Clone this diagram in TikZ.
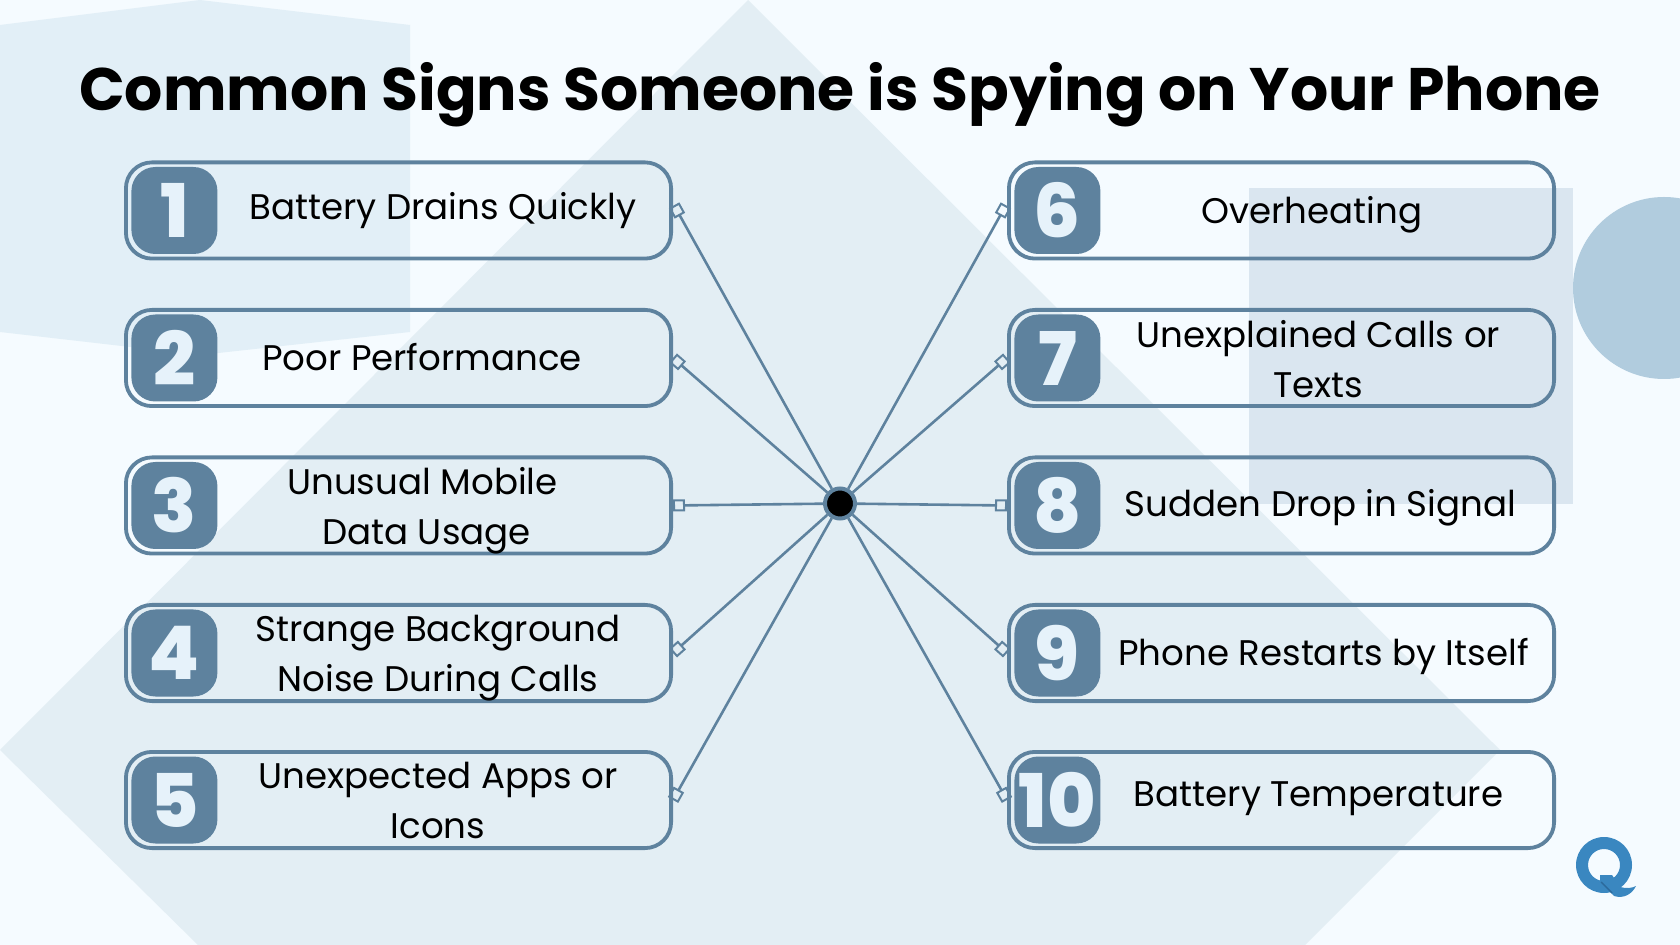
\documentclass[tikz,border=0pt]{standalone}
\usepackage{fontspec}
\setmainfont{Poppins}
\newfontfamily\digitfont{Poppins}[UprightFont=* ExtraBold]
\usetikzlibrary{arrows.meta,positioning}
\definecolor{steel}{HTML}{5E829E}
\definecolor{pagebg}{HTML}{F5FBFF}
\definecolor{hexcol}{HTML}{E2EFF7}
\definecolor{diamcol}{HTML}{E3EEF4}
\definecolor{rectcol}{HTML}{C4D6E4}
\definecolor{disccol}{HTML}{B1CCDE}
\definecolor{digitcol}{HTML}{E6F2FA}
\definecolor{logocol}{HTML}{3A87C0}
\definecolor{logodark}{HTML}{2C6A9C}
\tikzset{
  signbox/.style={draw=steel,line width=1.9pt,rounded corners=13pt,minimum width=272.6pt,minimum height=48.1pt},
  numbadge/.style={fill=steel,rounded corners=12pt,minimum width=43pt,minimum height=43.5pt,inner sep=0pt,
    text=digitcol,font=\digitfont\fontsize{37}{37}\selectfont},
  signlabel/.style={align=center,inner sep=0pt,font=\fontsize{17.8}{25}\selectfont},
  hubdot/.style={circle,fill=black,draw=steel,line width=2pt,minimum size=15pt,inner sep=0pt},
  link/.style={draw=steel,line width=1.3pt,-{Square[open,length=6pt,width=6pt,line width=1pt]}}
}
\begin{document}
\begin{tikzpicture}[x=.5pt,y=-.5pt]
\useasboundingbox (0,0) rectangle (1680,945);
\fill[pagebg] (0,0) rectangle (1680,945);
\fill[hexcol] (0,25) -- (200,0) -- (410,25) -- (410,332) -- (200,355) -- (0,332) -- cycle;
\fill[diamcol] (748,0) -- (1500,750) -- (1305,945) -- (198,945) -- (0,750) -- cycle;
\fill[rectcol,opacity=.55] (1249,188) rectangle (1573,504);
\fill[disccol] (1664,288) circle[radius=91];
\node[font=\bfseries\fontsize{30}{30}\selectfont] (title) at (840,94.5) {Common Signs Someone is Spying on Your Phone};

\node[signbox] (box1) at (398.5,210.5) {};
\node[signbox] (box2) at (398.5,358) {};
\node[signbox] (box3) at (398.5,505.5) {};
\node[signbox] (box4) at (398.5,653) {};
\node[signbox] (box5) at (398.5,800) {};
\node[signbox] (box6) at (1281.5,210.5) {};
\node[signbox] (box7) at (1281.5,358) {};
\node[signbox] (box8) at (1281.5,505.5) {};
\node[signbox] (box9) at (1281.5,653) {};
\node[signbox] (box10) at (1281.5,800) {};

\node[numbadge,right=3.5pt of box1.west,anchor=west] (num1) {1};
\node[numbadge,right=3.5pt of box2.west,anchor=west] (num2) {2};
\node[numbadge,right=3.5pt of box3.west,anchor=west] (num3) {3};
\node[numbadge,right=3.5pt of box4.west,anchor=west] (num4) {4};
\node[numbadge,right=3.5pt of box5.west,anchor=west] (num5) {5};
\node[numbadge,right=3.5pt of box6.west,anchor=west] (num6) {6};
\node[numbadge,right=3.5pt of box7.west,anchor=west] (num7) {7};
\node[numbadge,right=3.5pt of box8.west,anchor=west] (num8) {8};
\node[numbadge,right=3.5pt of box9.west,anchor=west] (num9) {9};
\node[numbadge,right=3.5pt of box10.west,anchor=west] (num10) {10};

\node[signlabel] (lab1) at (443,211) {Battery Drains Quickly};
\node[signlabel] (lab2) at (422,357) {Poor Performance};
\node[signlabel] (lab3) at (422.5,511) {Unusual Mobile\\\hspace{4pt}Data Usage};
\node[signlabel] (lab4) at (438,658) {Strange Background\\Noise During Calls};
\node[signlabel] (lab5) at (438,800) {Unexpected Apps or\\Icons};
\node[signlabel] (lab6) at (1312,215) {Overheating};
\node[signlabel] (lab7) at (1318.5,359.5) {Unexplained Calls or\\Texts};
\node[signlabel] (lab8) at (1320.5,508) {Sudden Drop in Signal};
\node[signlabel] (lab9) at (1323.5,656) {Phone Restarts by Itself};
\node[signlabel] (lab10) at (1318.5,799) {Battery Temperature};

\node[hubdot] (hub) at (840,503.5) {};
\draw[link,shorten >=-3pt] (hub) -- ([xshift=2pt]box1.east);
\draw[link] (hub) -- (box2.east);
\draw[link] (hub) -- (box3.east);
\draw[link] (hub) -- (box4.east);
\draw[link] (hub) -- (box5.east);
\draw[link,shorten >=-3pt] (hub) -- ([xshift=-2pt]box6.west);
\draw[link] (hub) -- (box7.west);
\draw[link] (hub) -- (box8.west);
\draw[link] (hub) -- (box9.west);
\draw[link] (hub) -- (box10.west);

\fill[logocol,even odd rule] (1604,865) circle[radius=28] (1604,865) circle[radius=16];
\fill[logocol] (1600,875) -- (1612,875) -- (1620,887) .. controls (1627,889) and (1632,888) .. (1636,886) .. controls (1632,894) and (1624,899) .. (1614,896) -- (1600,882) -- cycle;
\draw[logodark,line width=.7pt] (1601,882) -- (1612,893);
\end{tikzpicture}
\end{document}
